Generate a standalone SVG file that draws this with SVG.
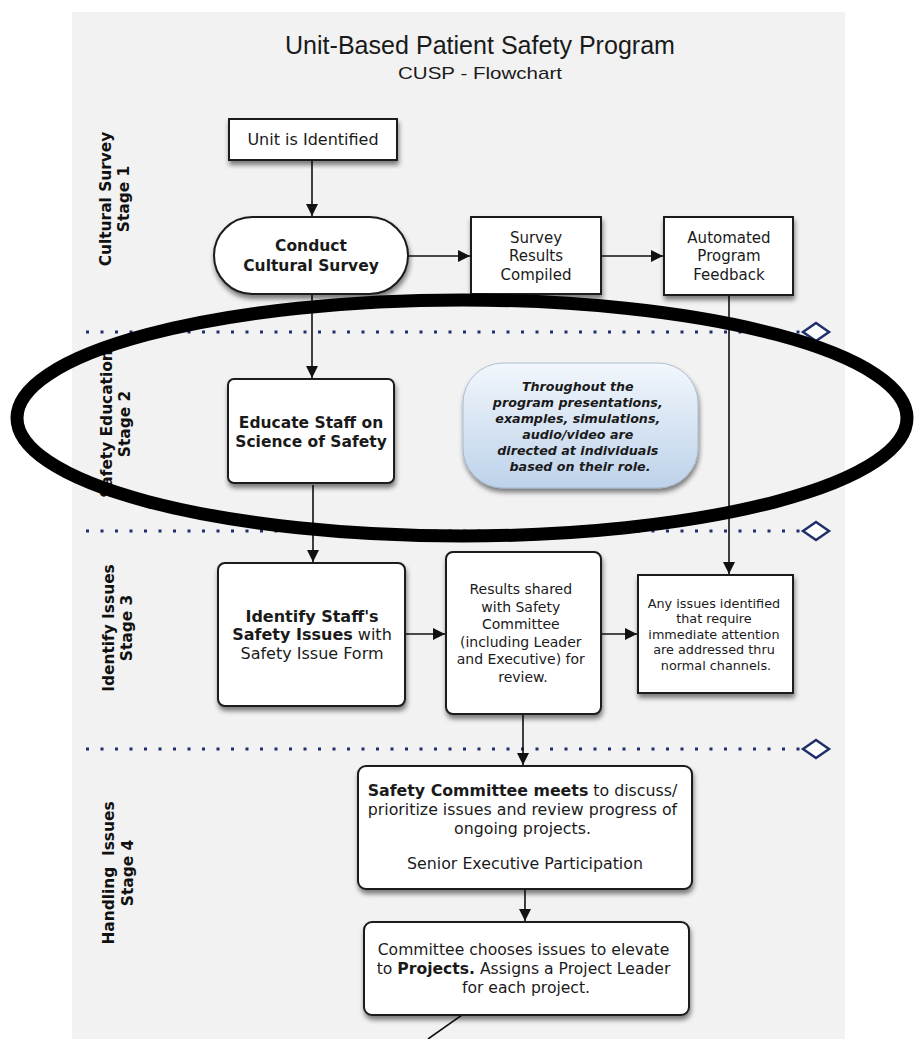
<svg xmlns="http://www.w3.org/2000/svg" width="915" height="1039" viewBox="0 0 915 1039">
<defs>
<style>
.box{fill:#fff;stroke:#1a1a1a;stroke-width:2;filter:url(#sh)}
.t{font-family:"DejaVu Sans",Verdana,sans-serif;fill:#1a1a1a;text-anchor:middle}
.b{font-weight:bold}
.stage{font-family:"DejaVu Sans",Verdana,sans-serif;font-weight:bold;font-size:15.4px;fill:#111;text-anchor:middle}
.ln{stroke:#111;stroke-width:1.6;fill:none}
.dot{stroke:#1f2f6b;stroke-width:3;stroke-dasharray:3 11.5;fill:none}
.dia{fill:#fff;stroke:#1f2f6b;stroke-width:2.5}
</style>
<filter id="sh" x="-10%" y="-10%" width="130%" height="130%">
<feGaussianBlur in="SourceAlpha" stdDeviation="2.5"/>
<feOffset dx="1" dy="4" result="o"/>
<feComponentTransfer><feFuncA type="linear" slope="0.5"/></feComponentTransfer>
<feMerge><feMergeNode/><feMergeNode in="SourceGraphic"/></feMerge>
</filter>
<linearGradient id="blue" x1="0" y1="0" x2="0" y2="1">
<stop offset="0" stop-color="#f2f7fc"/>
<stop offset="1" stop-color="#bdd2ea"/>
</linearGradient>
<marker id="ah" viewBox="0 0 10 10" refX="10" refY="5" markerWidth="12" markerHeight="12" markerUnits="userSpaceOnUse" orient="auto">
<path d="M0,0 L10,5 L0,10 z" fill="#111"/>
</marker>
</defs>
<rect width="915" height="1039" fill="#fff"/>
<rect x="72" y="12" width="773" height="1027" fill="#f2f2f2"/>
<g id="title">
<text x="480" y="54" font-family="'Liberation Sans',Arial,sans-serif" font-size="25" fill="#1a1a1a" text-anchor="middle" textLength="390" lengthAdjust="spacingAndGlyphs">Unit-Based Patient Safety Program</text>
<text x="480" y="79" font-family="'Liberation Sans',Arial,sans-serif" font-size="17" fill="#1a1a1a" text-anchor="middle" textLength="164" lengthAdjust="spacingAndGlyphs">CUSP - Flowchart</text>
</g>
<g id="separators">
<line class="dot" x1="86" y1="332" x2="800" y2="332"/>
<path class="dia" d="M803,332 L816,323 L829,332 L816,341 z"/>
<line class="dot" x1="86" y1="531" x2="800" y2="531"/>
<path class="dia" d="M803,531 L816,522 L829,531 L816,540 z"/>
<line class="dot" x1="86" y1="749" x2="800" y2="749"/>
<path class="dia" d="M803,749 L816,740 L829,749 L816,758 z"/>
</g>
<g id="stage-labels">
<text class="stage" transform="translate(111,199) rotate(-90)"><tspan x="0" y="0">Cultural Survey</tspan><tspan x="0" y="18">Stage 1</tspan></text>
<text class="stage" transform="translate(112,424) rotate(-90)"><tspan x="0" y="0">Safety Education</tspan><tspan x="0" y="18">Stage 2</tspan></text>
<text class="stage" transform="translate(114,628) rotate(-90)"><tspan x="0" y="0">Identify Issues</tspan><tspan x="0" y="18">Stage 3</tspan></text>
<text class="stage" transform="translate(114,873) rotate(-90)"><tspan x="0" y="0" xml:space="preserve">Handling  Issues</tspan><tspan x="0" y="19">Stage 4</tspan></text>
</g>
<g id="connectors">
<line class="ln" x1="312" y1="160" x2="312" y2="216" marker-end="url(#ah)"/>
<line class="ln" x1="408" y1="256" x2="470" y2="256" marker-end="url(#ah)"/>
<line class="ln" x1="601" y1="256" x2="663" y2="256" marker-end="url(#ah)"/>
<line class="ln" x1="312" y1="294" x2="312" y2="378" marker-end="url(#ah)"/>
<line class="ln" x1="729" y1="295" x2="729" y2="574" marker-end="url(#ah)"/>
<line class="ln" x1="313" y1="485" x2="313" y2="562" marker-end="url(#ah)"/>
<line class="ln" x1="405" y1="634" x2="445" y2="634" marker-end="url(#ah)"/>
<line class="ln" x1="601" y1="634" x2="637" y2="634" marker-end="url(#ah)"/>
<line class="ln" x1="523" y1="714" x2="523" y2="765" marker-end="url(#ah)"/>
<line class="ln" x1="525" y1="889" x2="525" y2="921" marker-end="url(#ah)"/>
<line class="ln" x1="462" y1="1015" x2="428" y2="1039"/>
</g>
<g id="unit-identified">
<rect class="box" x="229" y="119" width="168" height="41"/>
<text class="t" x="313" y="145" font-size="16">Unit is Identified</text>
</g>
<g id="conduct-survey">
<rect class="box" x="214" y="217" width="194" height="77" rx="38.5"/>
<text class="t b" x="311" y="251" font-size="15.5">Conduct</text>
<text class="t b" x="311" y="271" font-size="15.5">Cultural Survey</text>
</g>
<g id="survey-results">
<rect class="box" x="471" y="217" width="130" height="77"/>
<text class="t" x="536" y="243" font-size="15">Survey</text>
<text class="t" x="536" y="261" font-size="15">Results</text>
<text class="t" x="536" y="280" font-size="15">Compiled</text>
</g>
<g id="automated-feedback">
<rect class="box" x="664" y="217" width="129" height="78"/>
<text class="t" x="729" y="243" font-size="15">Automated</text>
<text class="t" x="729" y="261" font-size="15">Program</text>
<text class="t" x="729" y="280" font-size="15">Feedback</text>
</g>
<g id="educate-staff">
<rect class="box" x="228" y="379" width="166" height="104" rx="6"/>
<text class="t b" x="311" y="428" font-size="15.5">Educate Staff on</text>
<text class="t b" x="311" y="447" font-size="15.5">Science of Safety</text>
</g>
<g id="note">
<rect x="463" y="363" width="235" height="125" rx="40" fill="url(#blue)" stroke="#9fb3c8" stroke-width="0.8" filter="url(#sh)"/>
<text class="t b" font-style="italic" font-size="12.7" fill="#111">
<tspan x="580" y="391">Throughout the</tspan>
<tspan x="580" y="407">program presentations,</tspan>
<tspan x="580" y="423">examples, simulations,</tspan>
<tspan x="580" y="439">audio/video are</tspan>
<tspan x="580" y="455">directed at individuals</tspan>
<tspan x="580" y="471">based on their role.</tspan>
</text>
</g>
<g id="identify-issues">
<rect class="box" x="218" y="563" width="187" height="143" rx="7"/>
<text class="t" font-size="16" x="312" y="622"><tspan font-weight="bold">Identify Staff's</tspan></text>
<text class="t" font-size="16" x="312" y="640"><tspan font-weight="bold">Safety Issues</tspan> with</text>
<text class="t" font-size="16" x="312" y="659">Safety Issue Form</text>
</g>
<g id="results-shared">
<rect class="box" x="446" y="552" width="155" height="162" rx="7"/>
<text class="t" font-size="14">
<tspan x="523" y="594">Results shared</tspan>
<tspan x="523" y="612">with Safety</tspan>
<tspan x="523" y="629">Committee</tspan>
<tspan x="523" y="647">(including Leader</tspan>
<tspan x="523" y="664">and Executive) for</tspan>
<tspan x="523" y="682">review.</tspan>
</text>
</g>
<g id="any-issues">
<rect class="box" x="638" y="575" width="155" height="118"/>
<text class="t" font-size="12.8">
<tspan x="716" y="608">Any issues identified</tspan>
<tspan x="716" y="623">that require</tspan>
<tspan x="716" y="639">immediate attention</tspan>
<tspan x="716" y="654">are addressed thru</tspan>
<tspan x="716" y="670">normal channels.</tspan>
</text>
</g>
<g id="safety-committee">
<rect class="box" x="358" y="766" width="334" height="123" rx="8"/>
<text class="t" font-size="15.8">
<tspan x="525" y="796"><tspan font-weight="bold">Safety Committee meets</tspan> to discuss/</tspan>
<tspan x="525" y="815">prioritize issues and review progress of</tspan>
<tspan x="525" y="834">ongoing projects.</tspan>
<tspan x="525" y="869">Senior Executive Participation</tspan>
</text>
</g>
<g id="committee-chooses">
<rect class="box" x="364" y="922" width="325" height="93" rx="8"/>
<text class="t" font-size="15.6">
<tspan x="526" y="955">Committee chooses issues to elevate</tspan>
<tspan x="526" y="974">to <tspan font-weight="bold">Projects.</tspan> Assigns a Project Leader</tspan>
<tspan x="526" y="993">for each project.</tspan>
</text>
</g>
<g id="highlight">
<ellipse cx="462" cy="418" rx="445" ry="118" fill="none" stroke="#000" stroke-width="13"/>
</g>
</svg>
